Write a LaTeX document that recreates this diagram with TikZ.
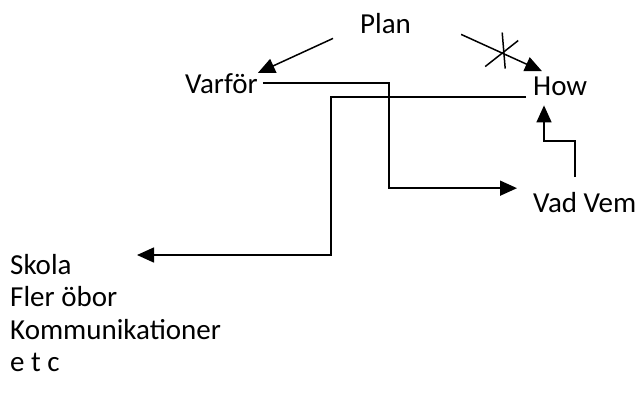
\documentclass[tikz,border=0pt]{standalone}
\usepackage{fontspec}
\setmainfont{Carlito}
\usetikzlibrary{arrows.meta,calc}

\begin{document}
\begin{tikzpicture}[x=1pt, y=-1pt,
  font=\fontsize{29}{32.5}\selectfont,
  word/.style={inner sep=0pt, anchor=base west},
  link/.style={line width=1.5pt, -{Triangle[length=17pt,width=15pt]}},
  tick/.style={line width=1.5pt}]
\path[use as bounding box] (0,0) rectangle (639,392);

\node[word] (plan)   at (360,33)  {Plan};
\node[word] (varfor) at (185,93)  {Varför};
\node[word] (how)    at (533,95)  {How};
\node[word] (vadvem) at (533,212) {Vad Vem};
\node[inner sep=0pt, anchor=north west, align=left] (list) at (10,254)
  {Skola\\Fler öbor\\Kommunikationer\\e t c};

\coordinate (vv) at ([xshift=-16pt,yshift=3.5pt]vadvem.north west);
\coordinate (sk) at ([xshift=127pt,yshift=-1pt]list.north west);

\draw[link] ([xshift=-27pt,yshift=-5pt]plan.south west) -- (varfor.north east);
\draw[link] ([xshift=50pt,yshift=-1pt]plan.south east)
  -- coordinate[pos=.52] (cut) ([xshift=9pt,yshift=5pt]how.north west);
\draw[tick] (cut) ++(-18,13) -- ++(33,-26);
\draw[tick] (cut) ++(-1,-21) -- ++(3,36);

\draw[link] ([xshift=5pt]varfor.east) -| (389,0 |- vv) -- (vv);
\draw[link] ([xshift=-7pt,yshift=-11pt]how.west) -| (331,0 |- sk) -- (sk);
\draw[link] ([xshift=42pt,yshift=14.5pt]vadvem.north west) -- ++(0,-36)
  -| ([xshift=11pt,yshift=-10pt]how.south west);
\end{tikzpicture}
\end{document}
